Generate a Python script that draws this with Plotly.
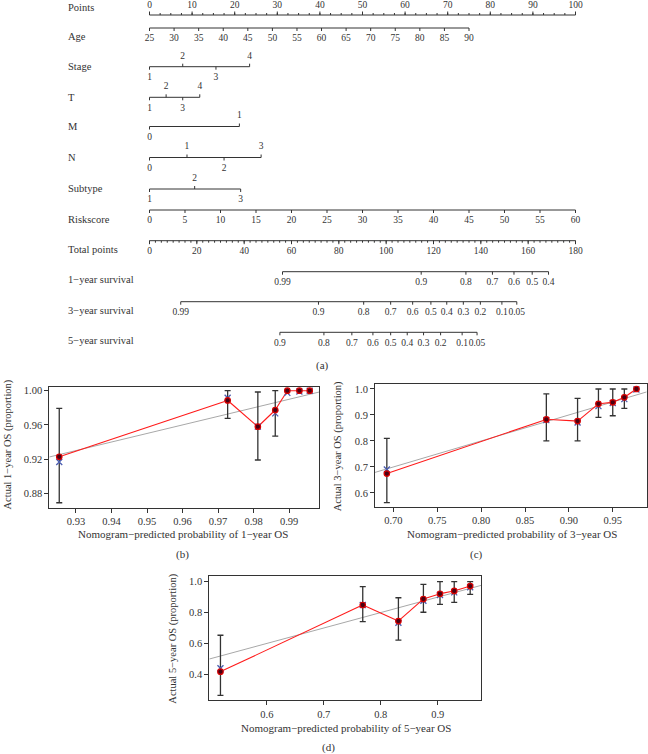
import plotly.graph_objects as go

W, H = 648, 754
FONT = "Liberation Serif"
INK = "#333333"

# ---------------- Nomogram data ----------------
points_ticks = [0, 10, 20, 30, 40, 50, 60, 70, 80, 90, 100]
age_vals = [25, 30, 35, 40, 45, 50, 55, 60, 65, 70, 75, 80, 85, 90]
age_pts = [0, 5.77, 11.54, 17.31, 23.08, 28.85, 34.62, 40.38, 46.15, 51.92, 57.69, 63.46, 69.23, 75.0]
stage_vals = ["1", "2", "3", "4"]
stage_pts = [0, 7.8, 15.6, 23.5]
t_vals = ["1", "2", "3", "4"]
t_pts = [0, 3.9, 7.8, 11.8]
m_vals = ["0", "1"]
m_pts = [0, 21.1]
n_vals = ["0", "1", "2", "3"]
n_pts = [0, 8.8, 17.5, 26.2]
subtype_vals = ["1", "2", "3"]
subtype_pts = [0, 10.6, 21.4]
risk_vals = [0, 5, 10, 15, 20, 25, 30, 35, 40, 45, 50, 55, 60]
risk_pts = [0, 8.33, 16.67, 25, 33.33, 41.67, 50, 58.33, 66.67, 75, 83.33, 91.67, 100]
total_ticks = [0, 20, 40, 60, 80, 100, 120, 140, 160, 180]
surv1_labels = ["0.99", "0.9", "0.8", "0.7", "0.6", "0.5", "0.4"]
surv1_total = [56.2, 114.8, 133.7, 144.9, 154.0, 161.7, 168.6]
surv3_labels = ["0.99", "0.9", "0.8", "0.7", "0.6", "0.5", "0.4", "0.3", "0.2", "0.1", "0.05"]
surv3_total = [13.2, 71.4, 90.5, 101.9, 111.2, 118.9, 125.6, 132.6, 139.8, 148.9, 155.2]
surv5_labels = ["0.9", "0.8", "0.7", "0.6", "0.5", "0.4", "0.3", "0.2", "0.1", "0.05"]
surv5_total = [55.1, 73.7, 85.5, 94.4, 101.9, 108.9, 115.8, 123.0, 132.1, 138.4]

# ---------------- Calibration data ----------------
pred_b = [0.9253, 0.9727, 0.9812, 0.9861, 0.9895, 0.9929, 0.9958]
obs_b = [0.9228, 0.9887, 0.9579, 0.9774, 1.0, 1.0, 1.0]
corr_b = [0.9166, 0.9918, 0.9580, 0.9735, 0.9975, 0.9990, 1.0]
upper_b = [0.9794, 1.0, 0.9985, 1.0, 1.0, 1.0, 1.0]
lower_b = [0.869, 0.9677, 0.919, 0.947, 1.0, 1.0, 1.0]

pred_c = [0.6925, 0.8743, 0.9099, 0.9337, 0.9500, 0.9632, 0.9770]
obs_c = [0.6745, 0.883, 0.8764, 0.943, 0.9486, 0.968, 1.0]
corr_c = [0.690, 0.880, 0.871, 0.934, 0.946, 0.961, 0.998]
upper_c = [0.810, 0.981, 0.964, 1.0, 1.0, 1.0, 1.0]
lower_c = [0.5625, 0.80, 0.80, 0.891, 0.897, 0.925, 1.0]

pred_d = [0.5186, 0.7684, 0.831, 0.8749, 0.904, 0.929, 0.957]
obs_d = [0.4167, 0.849, 0.745, 0.888, 0.922, 0.940, 0.972]
corr_d = [0.439, 0.849, 0.734, 0.877, 0.914, 0.931, 0.964]
upper_d = [0.653, 0.968, 0.896, 0.983, 1.0, 1.0, 1.0]
lower_d = [0.264, 0.741, 0.622, 0.802, 0.853, 0.866, 0.918]

fig = go.Figure()

# ---------- nomogram helpers ----------
X0, X100 = 149.5, 575.5          # pixel positions of 0 and 100 points
PPX = (X100 - X0) / 100.0


def add_row(xa, pts, labels, y_line, sides, tick=3.0, minor=None, minor_len=2.0,
            off_above=10.5, off_below=11):
    fig.add_trace(go.Scatter(x=[min(pts), max(pts)], y=[y_line, y_line], xaxis=xa, yaxis="y",
                             mode="lines", line=dict(color=INK, width=1), hoverinfo="skip",
                             showlegend=False))
    tx, ty = [], []
    for p, s in zip(pts, sides):
        tx += [p, p, None]
        ty += [y_line, y_line - tick if s == "above" else y_line + tick, None]
    if minor is not None:
        for p in minor:
            tx += [p, p, None]
            ty += [y_line, y_line - minor_len if sides[0] == "above" else y_line + minor_len, None]
    fig.add_trace(go.Scatter(x=tx, y=ty, xaxis=xa, yaxis="y", mode="lines",
                             line=dict(color=INK, width=1), hoverinfo="skip", showlegend=False))
    ly = [y_line - off_above if s == "above" else y_line + off_below for s in sides]
    fig.add_trace(go.Scatter(x=pts, y=ly, xaxis=xa, yaxis="y", mode="text",
                             text=[str(l) for l in labels], textposition="middle center",
                             textfont=dict(family=FONT, size=9.5, color=INK),
                             hoverinfo="skip", showlegend=False, cliponaxis=False))


def sides_alt(n, first="below"):
    other = "above" if first == "below" else "below"
    return [first if i % 2 == 0 else other for i in range(n)]


minor_points = [i * 2.5 for i in range(41)]
minor_total = [i * 2.5 for i in range(73)]

add_row("x", points_ticks, points_ticks, 15, ["above"] * len(points_ticks), tick=3.5,
        minor=minor_points, off_above=9)
add_row("x", age_pts, age_vals, 28, ["below"] * len(age_pts))
add_row("x", stage_pts, stage_vals, 66.7, sides_alt(4))
add_row("x", t_pts, t_vals, 97.3, sides_alt(4))
add_row("x", m_pts, m_vals, 126.5, sides_alt(2))
add_row("x", n_pts, n_vals, 157.5, sides_alt(4))
add_row("x", subtype_pts, subtype_vals, 189, sides_alt(3))
add_row("x", risk_pts, risk_vals, 210, ["below"] * len(risk_pts))
add_row("x2", total_ticks, total_ticks, 240.7, ["below"] * len(total_ticks), tick=3.5,
        minor=minor_total)
add_row("x2", surv1_total, surv1_labels, 271.7, ["below"] * len(surv1_total))
add_row("x2", surv3_total, surv3_labels, 301.7, ["below"] * len(surv3_total))
add_row("x2", surv5_total, surv5_labels, 332.3, ["below"] * len(surv5_total))

row_names = ["Points", "Age", "Stage", "T", "M", "N", "Subtype", "Riskscore", "Total points",
             "1\u2212year survival", "3\u2212year survival", "5\u2212year survival"]
row_y = [7, 36, 66.7, 97.3, 126.7, 157.7, 188.3, 219, 249, 279.3, 310, 340]

annotations = []
for name, yy in zip(row_names, row_y):
    annotations.append(dict(text=name, x=66 / W, xref="paper", y=yy, yref="y", xanchor="left",
                            yanchor="middle", showarrow=False,
                            font=dict(family=FONT, size=10.5, color=INK)))


def gapped_segments(px, py, box, xr, yr, gap=3.2):
    """Segments between consecutive points, stopping short of each point (R type='b')."""
    x0, x1, y0, y1 = box
    sx = (x1 - x0) / (xr[1] - xr[0])
    sy = (y1 - y0) / (yr[1] - yr[0])
    gx, gy = [], []
    for i in range(len(px) - 1):
        dx = (px[i + 1] - px[i]) * sx
        dy = (py[i + 1] - py[i]) * sy
        d = (dx * dx + dy * dy) ** 0.5
        if d <= 2 * gap + 0.5:
            continue
        f = gap / d
        gx += [px[i] + (px[i + 1] - px[i]) * f, px[i + 1] - (px[i + 1] - px[i]) * f, None]
        gy += [py[i] + (py[i + 1] - py[i]) * f, py[i + 1] - (py[i + 1] - py[i]) * f, None]
    return gx, gy


# ---------- calibration panels ----------
panels = [
    dict(ax="3", pred=pred_b, obs=obs_b, corr=corr_b, up=upper_b, lo=lower_b,
         box=(49.3, 319.3, 386.7, 507.7), xr=[0.9225, 0.9985], yr=[0.8632, 1.0047],
         xt=[0.93, 0.94, 0.95, 0.96, 0.97, 0.98, 0.99], xf="%.2f",
         yt=[0.88, 0.92, 0.96, 1.00], yf="%.2f",
         xtitle="Nomogram\u2212predicted probability of 1\u2212year OS", xtpos=(182.7, 534),
         ytitle="Actual 1\u2212year OS (proportion)", ytpos=(7.5, 445),
         tag="(b)", tagpos=(183, 554)),
    dict(ax="4", pred=pred_c, obs=obs_c, corr=corr_c, up=upper_c, lo=lower_c,
         box=(375, 646.7, 384.3, 506.7), xr=[0.679, 0.9887], yr=[0.547, 1.018],
         xt=[0.70, 0.75, 0.80, 0.85, 0.90, 0.95], xf="%.2f",
         yt=[0.6, 0.7, 0.8, 0.9, 1.0], yf="%.1f",
         xtitle="Nomogram\u2212predicted probability of 3\u2212year OS", xtpos=(511.7, 534),
         ytitle="Actual 3\u2212year OS (proportion)", ytpos=(338.3, 446),
         tag="(c)", tagpos=(476.7, 554)),
    dict(ax="5", pred=pred_d, obs=obs_d, corr=corr_d, up=upper_d, lo=lower_d,
         box=(209.3, 481, 576, 700), xr=[0.499, 0.976], yr=[0.2334, 1.037],
         xt=[0.6, 0.7, 0.8, 0.9], xf="%.1f",
         yt=[0.4, 0.6, 0.8, 1.0], yf="%.1f",
         xtitle="Nomogram\u2212predicted probability of 5\u2212year OS", xtpos=(345.5, 728.3),
         ytitle="Actual 5\u2212year OS (proportion)", ytpos=(172.7, 639),
         tag="(d)", tagpos=(328.3, 747.5)),
]

layout_axes = {}
for p in panels:
    a = p["ax"]
    xa, ya = "x" + a, "y" + a
    # ideal line
    fig.add_trace(go.Scatter(x=p["xr"], y=p["xr"], xaxis=xa, yaxis=ya, mode="lines",
                             line=dict(color="#a8a8a8", width=1), hoverinfo="skip",
                             showlegend=False))
    # observed line (with gaps around the points)
    gx, gy = gapped_segments(p["pred"], p["obs"], p["box"], p["xr"], p["yr"])
    fig.add_trace(go.Scatter(x=gx, y=gy, xaxis=xa, yaxis=ya, mode="lines",
                             line=dict(color="#ff1a1a", width=1.1), hoverinfo="skip",
                             showlegend=False, connectgaps=False))
    # error bars
    fig.add_trace(go.Scatter(x=p["pred"], y=p["obs"], xaxis=xa, yaxis=ya, mode="markers",
                             marker=dict(size=1, color="rgba(0,0,0,0)"),
                             error_y=dict(type="data", symmetric=False,
                                          array=[u - o for u, o in zip(p["up"], p["obs"])],
                                          arrayminus=[o - l for o, l in zip(p["obs"], p["lo"])],
                                          color=INK, thickness=1.3, width=3),
                             hoverinfo="skip", showlegend=False))
    # bias-corrected
    fig.add_trace(go.Scatter(x=p["pred"], y=p["corr"], xaxis=xa, yaxis=ya, mode="markers",
                             marker=dict(symbol="x-thin-open", size=6, color="#4a5cb0",
                                         line=dict(color="#4a5cb0", width=1.3)),
                             hoverinfo="skip", showlegend=False))
    # observed points
    fig.add_trace(go.Scatter(x=p["pred"], y=p["obs"], xaxis=xa, yaxis=ya, mode="markers",
                             marker=dict(symbol="circle", size=5.5, color="#4a0012",
                                         line=dict(color="#d80000", width=1.2)),
                             hoverinfo="skip", showlegend=False))

    x0, x1, y0, y1 = p["box"]
    axis_common = dict(showline=True, mirror=True, linecolor=INK, linewidth=1,
                       ticks="outside", ticklen=4, tickwidth=1, tickcolor=INK,
                       showgrid=False, zeroline=False,
                       tickfont=dict(family=FONT, size=10.5, color=INK))
    layout_axes["xaxis" + a] = dict(domain=[x0 / W, x1 / W], range=p["xr"], anchor=ya,
                                    tickvals=p["xt"], ticktext=[p["xf"] % v for v in p["xt"]],
                                    **axis_common)
    layout_axes["yaxis" + a] = dict(domain=[1 - y1 / H, 1 - y0 / H], range=p["yr"], anchor=xa,
                                    tickvals=p["yt"], ticktext=[p["yf"] % v for v in p["yt"]],
                                    **axis_common)
    annotations.append(dict(text=p["xtitle"], x=p["xtpos"][0] / W, xref="paper",
                            y=p["xtpos"][1], yref="y", showarrow=False,
                            xanchor="center", yanchor="middle",
                            font=dict(family=FONT, size=11, color=INK)))
    annotations.append(dict(text=p["ytitle"], x=p["ytpos"][0] / W, xref="paper",
                            y=p["ytpos"][1], yref="y", showarrow=False, textangle=-90,
                            xanchor="center", yanchor="middle",
                            font=dict(family=FONT, size=10.5, color=INK)))
    annotations.append(dict(text=p["tag"], x=p["tagpos"][0] / W, xref="paper",
                            y=p["tagpos"][1], yref="y", showarrow=False,
                            xanchor="center", yanchor="middle",
                            font=dict(family=FONT, size=11, color=INK)))

annotations.append(dict(text="(a)", x=322 / W, xref="paper", y=365, yref="y", showarrow=False,
                        xanchor="center", yanchor="middle",
                        font=dict(family=FONT, size=11, color=INK)))

fig.update_layout(
    width=W, height=H, margin=dict(l=0, r=0, t=0, b=0),
    paper_bgcolor="white", plot_bgcolor="rgba(0,0,0,0)",
    xaxis=dict(domain=[0, 1], range=[-X0 / PPX, (W - X0) / PPX], visible=False, anchor="y"),
    xaxis2=dict(domain=[0, 1], range=[-X0 / PPX * 1.8, (W - X0) / PPX * 1.8], visible=False,
                overlaying="x", anchor="y"),
    yaxis=dict(domain=[0, 1], range=[H, 0], visible=False),
    annotations=annotations,
    hovermode=False,
    **layout_axes,
)

fig.write_html("out.html", config={"displayModeBar": False, "staticPlot": True},
               post_script="document.body.style.margin='0';document.body.style.overflow='hidden';")
